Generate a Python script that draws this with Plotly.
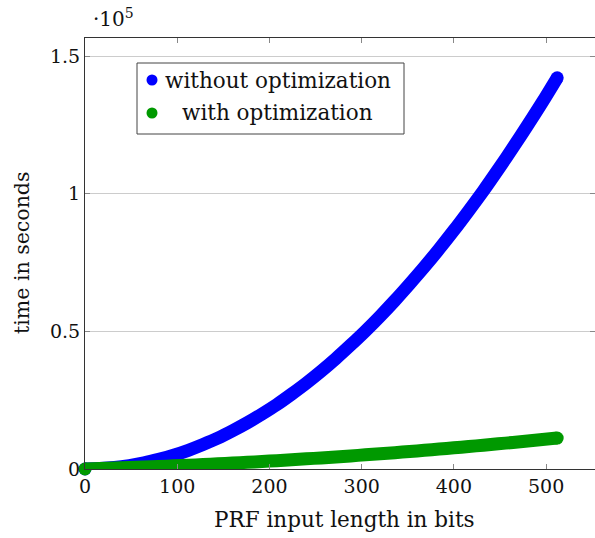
import plotly.graph_objects as go

bits = [0, 16, 32, 48, 64, 80, 96, 112, 128, 144, 160, 176, 192, 208, 224, 240, 256,
        272, 288, 304, 320, 336, 352, 368, 384, 400, 416, 432, 448, 464, 480, 496, 512]
without_opt = [0, 150, 550, 1250, 2200, 3500, 5000, 6800, 8900, 11200, 13900, 16800,
               20000, 23400, 27200, 31200, 35500, 40100, 45000, 50100, 55500, 61200,
               67200, 73400, 79900, 86700, 93800, 101100, 108800, 116700, 124900,
               133300, 142100]
with_opt = [0, 160, 330, 510, 710, 920, 1140, 1370, 1620, 1880, 2150, 2430, 2720, 3030,
            3350, 3690, 4030, 4390, 4760, 5140, 5530, 5940, 6360, 6790, 7240, 7700, 8170,
            8650, 9140, 9650, 10170, 10700, 11240]

x_ticks = [0, 100, 200, 300, 400, 500]
y_ticks = [0, 50000, 100000, 150000]
y_tick_text = ["0", "0.5", "1", "1.5"]
series_names = ["without optimization", "with optimization"]
colors = ["#0000ff", "#009900"]

FONT = "DejaVu Serif"
W, H = 595, 538
L, R, T, B = 85, 0, 38, 69
pw, ph = W - L - R, H - T - B


def px(xp):
    return (xp - L) / pw


def py(yp):
    return (H - B - yp) / ph


fig = go.Figure()
for ys, col in [(without_opt, colors[0]), (with_opt, colors[1])]:
    fig.add_trace(go.Scatter(x=bits, y=ys, mode="lines",
                             line=dict(color=col, width=13, shape="spline",
                                       smoothing=0.8),
                             showlegend=False, hoverinfo="skip"))
    # round end caps at the first and last data points
    fig.add_trace(go.Scatter(x=[bits[0], bits[-1]], y=[ys[0], ys[-1]], mode="markers",
                             marker=dict(color=col, size=13, opacity=1,
                                         line=dict(width=0)),
                             cliponaxis=False, showlegend=False, hoverinfo="skip"))

fig.update_layout(
    width=W, height=H,
    margin=dict(l=L, r=R, t=T, b=B, autoexpand=False),
    paper_bgcolor="white", plot_bgcolor="white",
    font=dict(family=FONT, size=19, color="#111"),
    showlegend=False,
)
fig.update_xaxes(range=[0, 553], tickvals=x_ticks, ticks="inside", ticklen=5,
                 tickcolor="#888", showline=True, linecolor="#333", linewidth=1,
                 mirror="ticks", showgrid=False, zeroline=False, automargin=False,
                 tickfont=dict(size=19))
fig.update_yaxes(range=[0, 156550], tickvals=y_ticks, ticktext=y_tick_text,
                 ticks="inside", ticklen=5, tickcolor="#888", showline=True,
                 linecolor="#333", linewidth=1, mirror="ticks", showgrid=True,
                 gridcolor="#cccccc", gridwidth=1, zeroline=False, automargin=False,
                 tickfont=dict(size=19))

# axis titles
fig.add_annotation(xref="paper", yref="paper", x=px(344), y=py(519),
                   text="PRF input length in bits", showarrow=False,
                   xanchor="center", yanchor="middle", font=dict(size=21.5))
fig.add_annotation(xref="paper", yref="paper", x=px(22), y=py(253),
                   text="time in seconds", showarrow=False, textangle=-90,
                   xanchor="center", yanchor="middle", font=dict(size=20.5))

# exponent label
fig.add_annotation(xref="paper", yref="paper", x=px(91), y=py(18),
                   text="·10<sup>5</sup>", showarrow=False, xanchor="left",
                   yanchor="middle", font=dict(size=20))

# manual pgfplots-style legend
fig.add_shape(type="rect", xref="paper", yref="paper", x0=px(137), x1=px(404),
              y0=py(134), y1=py(63), line=dict(color="#444", width=1),
              fillcolor="white", layer="above")
rows = [80, 113]
for name, col, yy in zip(series_names, colors, rows):
    r = 5.5
    fig.add_shape(type="circle", xref="paper", yref="paper",
                  x0=px(152 - r), x1=px(152 + r), y0=py(yy + r), y1=py(yy - r),
                  fillcolor=col, line=dict(width=0), layer="above")
    fig.add_annotation(xref="paper", yref="paper", x=px(277.5), y=py(yy),
                       text=name, showarrow=False, xanchor="center",
                       yanchor="middle", font=dict(size=21.5))

fig.write_html("out.html", config={"displayModeBar": False},
               post_script="document.body.style.margin='0px';")
